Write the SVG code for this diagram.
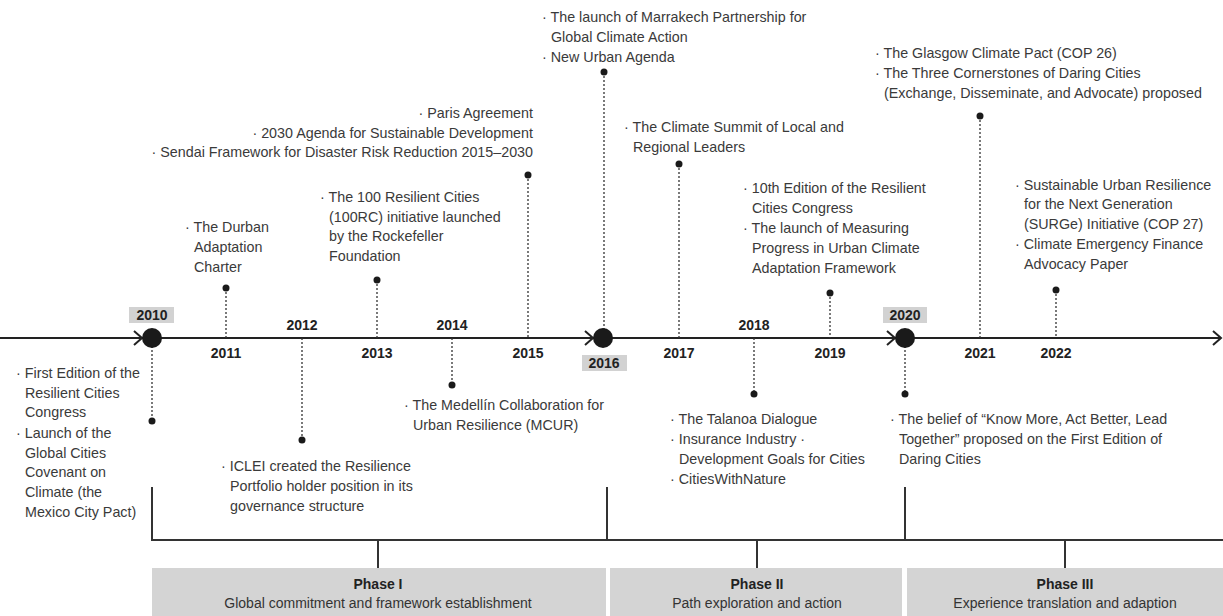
<svg xmlns="http://www.w3.org/2000/svg" width="1223" height="616" viewBox="0 0 1223 616">
<style>
text{font-family:"Liberation Sans",Arial,sans-serif}
.t{font-size:14.3px;fill:#3a3a3a}
.e{text-anchor:end}
.yr{font-size:14px;font-weight:bold;fill:#222;text-anchor:middle}
.ph{font-size:14px;font-weight:bold;fill:#222;text-anchor:middle}
.ps{font-size:14px;fill:#333;text-anchor:middle}
.dot{fill:#1a1a1a}
.dl{stroke:#333;stroke-width:1.3;stroke-dasharray:2 2;fill:none}
.ax{stroke:#222;stroke-width:2;fill:none}
.br{stroke:#333;stroke-width:2;fill:none}
.yb{fill:#d2d2d2}
.pb{fill:#d4d4d4}
</style>
<g id="connectors">
<line class="ax" x1="0" y1="338" x2="1221" y2="338"/>
<polyline class="ax" points="1213,331 1221,338 1213,345"/>
<polyline class="ax" points="134,331 142,338 134,345"/>
<polyline class="ax" points="585,331 593,338 585,345"/>
<polyline class="ax" points="887,331 895,338 887,345"/>
<line class="dl" x1="152" y1="338" x2="152" y2="421"/>
<line class="dl" x1="226" y1="288" x2="226" y2="338"/>
<line class="dl" x1="302" y1="338" x2="302" y2="440"/>
<line class="dl" x1="377" y1="280" x2="377" y2="338"/>
<line class="dl" x1="452" y1="338" x2="452" y2="385"/>
<line class="dl" x1="528" y1="175" x2="528" y2="338"/>
<line class="dl" x1="604" y1="72" x2="604" y2="338"/>
<line class="dl" x1="679" y1="164" x2="679" y2="338"/>
<line class="dl" x1="754" y1="338" x2="754" y2="394"/>
<line class="dl" x1="830" y1="293" x2="830" y2="338"/>
<line class="dl" x1="905" y1="338" x2="905" y2="394"/>
<line class="dl" x1="980" y1="116" x2="980" y2="338"/>
<line class="dl" x1="1056" y1="290" x2="1056" y2="338"/>
<line class="br" x1="152" y1="487" x2="152" y2="540"/>
<line class="br" x1="607" y1="487" x2="607" y2="540"/>
<line class="br" x1="905" y1="487" x2="905" y2="540"/>
<line class="br" x1="151" y1="540" x2="1223" y2="540"/>
<line class="br" x1="378" y1="540" x2="378" y2="568"/>
<line class="br" x1="757" y1="540" x2="757" y2="568"/>
<line class="br" x1="1065" y1="540" x2="1065" y2="568"/>
</g>
<g id="y2010">
<rect class="yb" x="129" y="307" width="45" height="16"/>
<text class="yr" x="152" y="320">2010</text>
<circle class="dot" cx="152" cy="338" r="10"/>
<circle class="dot" cx="152" cy="421" r="3.5"/>
<text class="t" x="16" y="378">· First Edition of the</text>
<text class="t" x="25" y="398">Resilient Cities</text>
<text class="t" x="25" y="417">Congress</text>
<text class="t" x="16" y="438">· Launch of the</text>
<text class="t" x="25" y="458">Global Cities</text>
<text class="t" x="25" y="477">Covenant on</text>
<text class="t" x="25" y="497">Climate (the</text>
<text class="t" x="25" y="517">Mexico City Pact)</text>
</g>
<g id="y2011">
<text class="yr" x="226" y="358">2011</text>
<circle class="dot" cx="226" cy="288" r="3.5"/>
<text class="t" x="185" y="232">· The Durban</text>
<text class="t" x="194" y="252">Adaptation</text>
<text class="t" x="194" y="272">Charter</text>
</g>
<g id="y2012">
<text class="yr" x="302" y="330">2012</text>
<circle class="dot" cx="302" cy="440" r="3.5"/>
<text class="t" x="221" y="471">· ICLEI created the Resilience</text>
<text class="t" x="230" y="491">Portfolio holder position in its</text>
<text class="t" x="230" y="511">governance structure</text>
</g>
<g id="y2013">
<text class="yr" x="377" y="358">2013</text>
<circle class="dot" cx="377" cy="280" r="3.5"/>
<text class="t" x="320" y="202">· The 100 Resilient Cities</text>
<text class="t" x="329" y="222">(100RC) initiative launched</text>
<text class="t" x="329" y="241">by the Rockefeller</text>
<text class="t" x="329" y="261">Foundation</text>
</g>
<g id="y2014">
<text class="yr" x="452" y="330">2014</text>
<circle class="dot" cx="452" cy="385" r="3.5"/>
<text class="t" x="404" y="410">· The Medellín Collaboration for</text>
<text class="t" x="413" y="430">Urban Resilience (MCUR)</text>
</g>
<g id="y2015">
<text class="yr" x="528" y="358">2015</text>
<circle class="dot" cx="528" cy="175" r="3.5"/>
<text class="t e" x="533" y="118">· Paris Agreement</text>
<text class="t e" x="533" y="138">· 2030 Agenda for Sustainable Development</text>
<text class="t e" x="533" y="157">· Sendai Framework for Disaster Risk Reduction 2015–2030</text>
</g>
<g id="y2016">
<rect class="yb" x="582" y="355" width="45" height="16"/>
<text class="yr" x="604" y="368">2016</text>
<circle class="dot" cx="603" cy="338" r="10"/>
<circle class="dot" cx="604" cy="72" r="3.5"/>
<text class="t" x="542" y="22">· The launch of Marrakech Partnership for</text>
<text class="t" x="551" y="42">Global Climate Action</text>
<text class="t" x="542" y="62">· New Urban Agenda</text>
</g>
<g id="y2017">
<text class="yr" x="679" y="358">2017</text>
<circle class="dot" cx="679" cy="164" r="3.5"/>
<text class="t" x="624" y="132">· The Climate Summit of Local and</text>
<text class="t" x="633" y="152">Regional Leaders</text>
</g>
<g id="y2018">
<text class="yr" x="754" y="330">2018</text>
<circle class="dot" cx="754" cy="394" r="3.5"/>
<text class="t" x="670" y="424">· The Talanoa Dialogue</text>
<text class="t" x="670" y="444">· Insurance Industry ·</text>
<text class="t" x="679" y="464">Development Goals for Cities</text>
<text class="t" x="670" y="484">· CitiesWithNature</text>
</g>
<g id="y2019">
<text class="yr" x="830" y="358">2019</text>
<circle class="dot" cx="830" cy="293" r="3.5"/>
<text class="t" x="743" y="193">· 10th Edition of the Resilient</text>
<text class="t" x="752" y="213">Cities Congress</text>
<text class="t" x="743" y="233">· The launch of Measuring</text>
<text class="t" x="752" y="253">Progress in Urban Climate</text>
<text class="t" x="752" y="273">Adaptation Framework</text>
</g>
<g id="y2020">
<rect class="yb" x="883" y="307" width="44" height="16"/>
<text class="yr" x="905" y="320">2020</text>
<circle class="dot" cx="905" cy="338" r="10"/>
<circle class="dot" cx="905" cy="394" r="3.5"/>
<text class="t" x="890" y="424">· The belief of “Know More, Act Better, Lead</text>
<text class="t" x="899" y="444">Together” proposed on the First Edition of</text>
<text class="t" x="899" y="464">Daring Cities</text>
</g>
<g id="y2021">
<text class="yr" x="980" y="358">2021</text>
<circle class="dot" cx="980" cy="116" r="3.5"/>
<text class="t" x="875" y="58">· The Glasgow Climate Pact (COP 26)</text>
<text class="t" x="875" y="78">· The Three Cornerstones of Daring Cities</text>
<text class="t" x="884" y="98">(Exchange, Disseminate, and Advocate) proposed</text>
</g>
<g id="y2022">
<text class="yr" x="1056" y="358">2022</text>
<circle class="dot" cx="1056" cy="290" r="3.5"/>
<text class="t" x="1015" y="190">· Sustainable Urban Resilience</text>
<text class="t" x="1024" y="209">for the Next Generation</text>
<text class="t" x="1024" y="229">(SURGe) Initiative (COP 27)</text>
<text class="t" x="1015" y="249">· Climate Emergency Finance</text>
<text class="t" x="1024" y="269">Advocacy Paper</text>
</g>
<g id="phase1">
<rect class="pb" x="152" y="568" width="454" height="48"/>
<text class="ph" x="378" y="589">Phase I</text>
<text class="ps" x="378" y="608">Global commitment and framework establishment</text>
</g>
<g id="phase2">
<rect class="pb" x="610" y="568" width="292" height="48"/>
<text class="ph" x="757" y="589">Phase II</text>
<text class="ps" x="757" y="608">Path exploration and action</text>
</g>
<g id="phase3">
<rect class="pb" x="907" y="568" width="316" height="48"/>
<text class="ph" x="1065" y="589">Phase III</text>
<text class="ps" x="1065" y="608">Experience translation and adaption</text>
</g>
</svg>
